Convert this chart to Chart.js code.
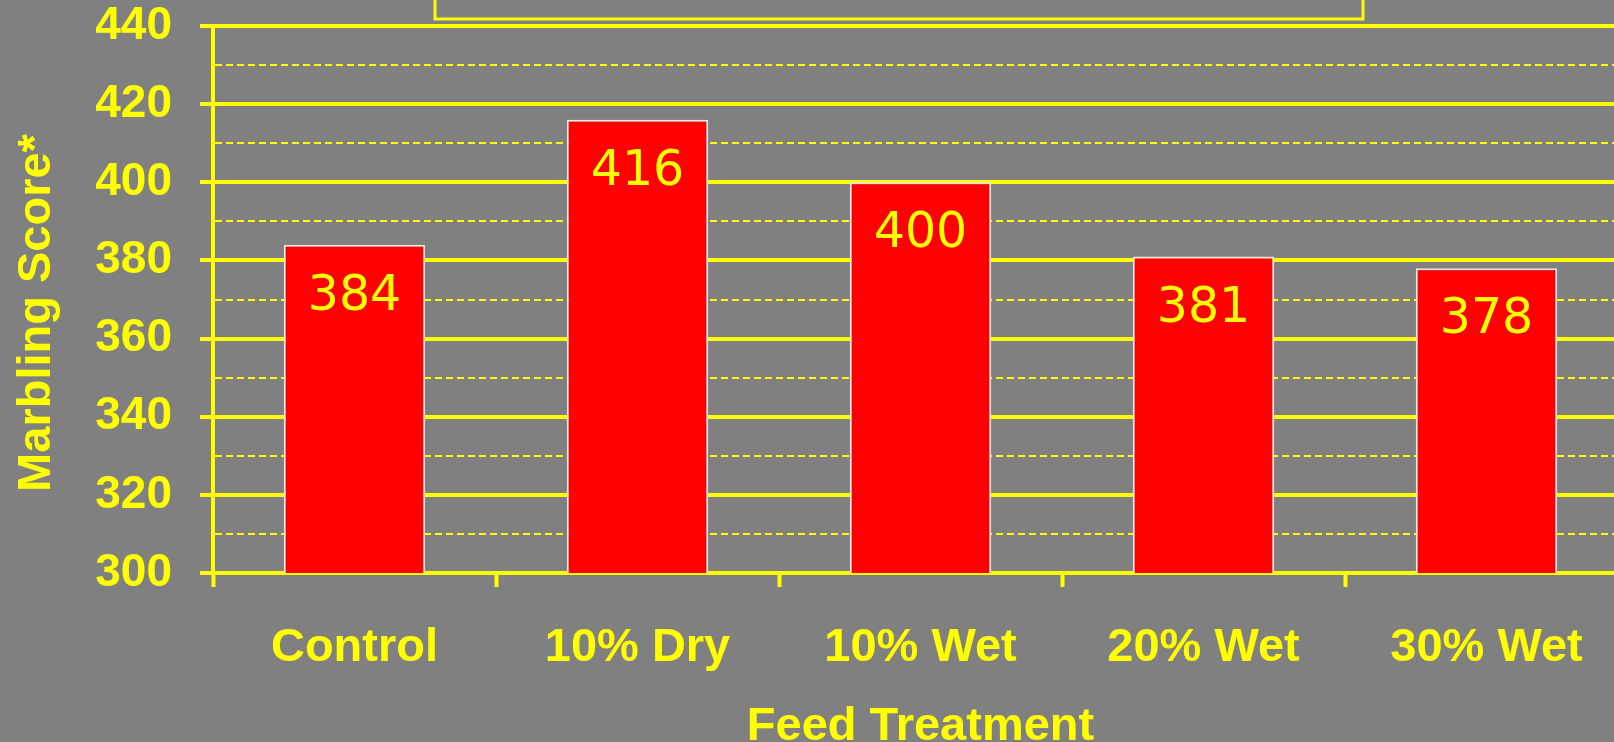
<!DOCTYPE html>
<html>
<head>
<meta charset="utf-8">
<script src="https://cdn.jsdelivr.net/npm/chart.js@4/dist/chart.umd.min.js"></script>
<style>
  html, body { margin: 0; padding: 0; background: #808080; overflow: hidden; }
  #wrap { position: absolute; left: 0; top: 0; width: 1628px; height: 760px; }
</style>
</head>
<body>
<div id="wrap"><canvas id="marblingChart"></canvas></div>
<script>
// chart data
const treatments = ["Control", "10% Dry", "10% Wet", "20% Wet", "30% Wet"];
const marblingScores = [384, 416, 400, 381, 378];
const yMin = 300;
const yMax = 440;
const yTitle = "Marbling Score*";

const YELLOW = "#ffff00";
const BOLD = "'Liberation Sans', Arial, sans-serif";

// grey background + the title frame that sits mostly above the picture
const backdrop = {
  id: "backdrop",
  beforeDraw(chart) {
    const ctx = chart.ctx;
    ctx.save();
    ctx.fillStyle = "#808080";
    ctx.fillRect(0, 0, chart.width, chart.height);
    ctx.strokeStyle = YELLOW;
    ctx.lineWidth = 3;
    ctx.strokeRect(435, -40, 928, 59);
    ctx.restore();
  },
};

// value printed inside the top of each bar, and the y axis title
const barValues = {
  id: "barValues",
  afterDatasetsDraw(chart) {
    const ctx = chart.ctx;
    const meta = chart.getDatasetMeta(0);
    ctx.save();
    ctx.fillStyle = YELLOW;
    ctx.font = "49px 'DejaVu Sans', Verdana, sans-serif";
    ctx.textAlign = "center";
    ctx.textBaseline = "alphabetic";
    meta.data.forEach(function (bar, i) {
      ctx.fillText(String(marblingScores[i]), bar.x, bar.y + 65);
    });
    ctx.restore();
  },
  afterDraw(chart) {
    const ctx = chart.ctx;
    ctx.save();
    ctx.translate(37, 313);
    ctx.rotate(-Math.PI / 2);
    ctx.fillStyle = YELLOW;
    ctx.font = "bold 47px " + BOLD;
    ctx.textAlign = "center";
    ctx.textBaseline = "middle";
    ctx.fillText(yTitle, 0, 0);
    ctx.restore();
  },
};

const ctx = document.getElementById("marblingChart").getContext("2d");
new Chart(ctx, {
  type: "bar",
  data: {
    labels: treatments,
    datasets: [
      {
        label: "Marbling Score",
        data: marblingScores,
        backgroundColor: "#ff0000",
        borderColor: "#e6e6e6",
        borderWidth: 2,
        barPercentage: 0.5,
        categoryPercentage: 1,
      },
    ],
  },
  options: {
    responsive: true,
    maintainAspectRatio: false,
    animation: false,
    layout: { padding: { top: 26, right: 0, left: 0, bottom: 0 } },
    plugins: {
      legend: { display: false },
      tooltip: { enabled: false },
    },
    scales: {
      x: {
        grid: {
          offset: true,
          drawOnChartArea: false,
          tickColor: YELLOW,
          tickLength: 14,
          tickWidth: 4,
        },
        border: { color: YELLOW, width: 4 },
        ticks: {
          color: YELLOW,
          padding: 33,
          font: { family: BOLD, size: 47, weight: "bold" },
          maxRotation: 0,
        },
        title: {
          display: true,
          text: "Feed Treatment",
          color: YELLOW,
          font: { family: BOLD, size: 47, weight: "bold" },
          padding: { top: 0, bottom: 5 },
        },
        afterFit(scale) {
          scale.height = 187;
        },
      },
      y: {
        min: yMin,
        max: yMax,
        grid: {
          color: YELLOW,
          lineWidth: function (c) {
            return c.tick && c.tick.value % 20 === 0 ? 4 : 2;
          },
          tickColor: function (c) {
            return c.tick && c.tick.value % 20 === 0 ? YELLOW : "rgba(0,0,0,0)";
          },
          tickLength: 13,
          tickWidth: 4,
        },
        border: {
          color: YELLOW,
          width: 4,
          dash: function (c) {
            return c.tick && c.tick.value % 20 === 0 ? [] : [7, 4];
          },
        },
        ticks: {
          stepSize: 10,
          autoSkip: false,
          color: YELLOW,
          padding: 28,
          font: { family: BOLD, size: 46, weight: "bold" },
          callback: function (v) {
            return v % 20 === 0 ? v : "";
          },
        },
        afterFit(scale) {
          scale.width = 213;
          scale.paddingTop = 0;
          scale.paddingBottom = 0;
        },
      },
    },
  },
  plugins: [backdrop, barValues],
});
</script>
</body>
</html>
